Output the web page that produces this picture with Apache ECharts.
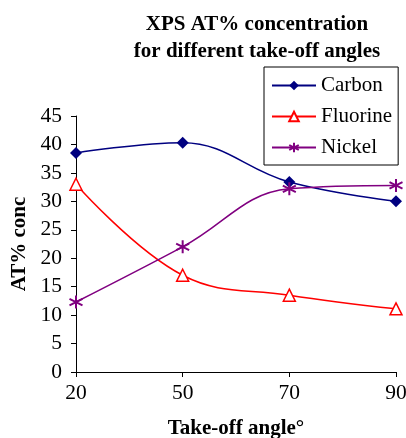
<!DOCTYPE html>
<html><head><meta charset="utf-8">
<script src="https://cdn.jsdelivr.net/npm/echarts@6/dist/echarts.min.js"></script>
<style>html,body{margin:0;padding:0;background:#fff}#c{width:406px;height:438px}</style>
</head><body><div id="c"></div>
<script>
const angles = ['20', '50', '70', '90'];
const carbon = [38.5, 40.3, 33.4, 30.0];
const fluorine = [33.0, 17.0, 13.5, 11.1];
const nickel = [12.3, 22.0, 32.2, 32.8];
const yTicks = [0, 5, 10, 15, 20, 25, 30, 35, 40, 45];

const serif = '"Liberation Serif", "DejaVu Serif", serif';
const asterisk = 'path://M5,0 L5,10 M0.7,2.5 L9.3,7.5 M9.3,2.5 L0.7,7.5';
const chart = echarts.init(document.getElementById('c'));
chart.setOption({
  animation: false,
  title: {
    text: 'XPS AT% concentration\nfor different take-off angles',
    left: 252, textAlign: 'center', top: 6,
    textStyle: { fontFamily: serif, fontWeight: 'bold', fontSize: 21, lineHeight: 27, color: '#000' }
  },
  legend: {
    orient: 'vertical', left: 264, top: 67,
    padding: [8, 6, 7, 7], itemGap: 10, itemWidth: 44, itemHeight: 12,
    borderColor: '#000', borderWidth: 1,
    textStyle: { fontFamily: serif, fontSize: 21, color: '#000' },
    data: ['Carbon', 'Fluorine', 'Nickel']
  },
  grid: { left: 76, right: 10, top: 116, bottom: 66, containLabel: false, outerBoundsMode: 'none' },
  xAxis: {
    type: 'category', data: angles, boundaryGap: false,
    name: 'Take-off angle°', nameLocation: 'middle', nameGap: 46,
    nameTextStyle: { fontFamily: serif, fontWeight: 'bold', fontSize: 21, color: '#000' },
    axisLine: { lineStyle: { color: '#000', width: 1 } },
    axisTick: { show: true, length: 5, lineStyle: { color: '#000' } },
    axisLabel: { fontFamily: serif, fontSize: 21.5, color: '#000', margin: 10 },
    splitLine: { show: false }
  },
  yAxis: {
    type: 'value', min: 0, max: 45, interval: 5,
    name: 'AT% conc', nameLocation: 'middle', nameGap: 44,
    nameTextStyle: { fontFamily: serif, fontWeight: 'bold', fontSize: 21, color: '#000' },
    axisLine: { show: true, lineStyle: { color: '#000', width: 1 } },
    axisTick: { show: true, length: 5, lineStyle: { color: '#000' } },
    axisLabel: { fontFamily: serif, fontSize: 21.5, color: '#000', margin: 14,
      formatter: v => yTicks.includes(v) ? String(v) : '' },
    splitLine: { show: false }
  },
  series: [
    { name: 'Carbon', type: 'line', data: carbon, smooth: 0.4,
      symbol: 'diamond', symbolSize: 12,
      lineStyle: { color: '#000080', width: 1.5 },
      itemStyle: { color: '#000080' } },
    { name: 'Fluorine', type: 'line', data: fluorine, smooth: 0.4,
      symbol: 'triangle', symbolSize: 12,
      lineStyle: { color: '#ff0000', width: 1.5 },
      itemStyle: { color: '#fff', borderColor: '#ff0000', borderWidth: 1.5 } },
    { name: 'Nickel', type: 'line', data: nickel, smooth: 0.4,
      symbol: asterisk, symbolSize: 13,
      lineStyle: { color: '#800080', width: 1.5 },
      itemStyle: { color: '#800080', borderColor: '#800080', borderWidth: 2 } }
  ]
});
</script></body></html>
